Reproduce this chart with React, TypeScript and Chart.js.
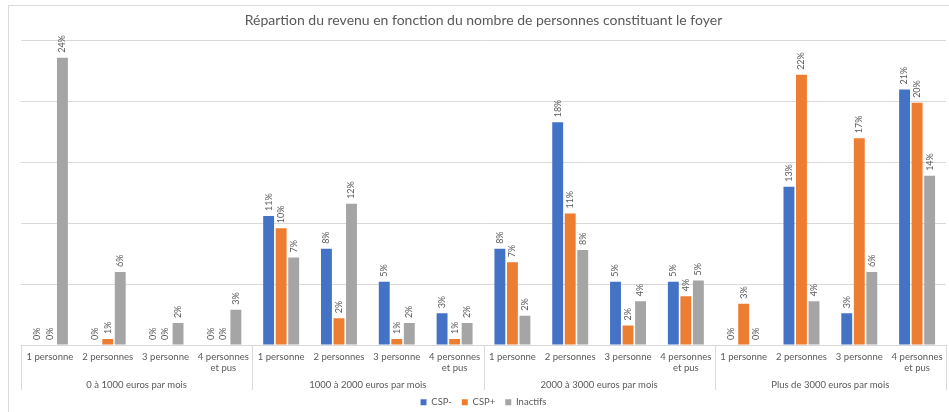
import React, { useEffect, useRef } from "react";
import { Chart, registerables } from "chart.js";

Chart.register(...registerables);

const subCategories: (string | string[])[] = [
  "1 personne", "2 personnes", "3 personne", ["4 personnes", "et pus"],
  "1 personne", "2 personnes", "3 personne", ["4 personnes", "et pus"],
  "1 personne", "2 personnes", "3 personne", ["4 personnes", "et pus"],
  "1 personne", "2 personnes", "3 personne", ["4 personnes", "et pus"],
];
const groups = [
  "0 à 1000 euros par mois",
  "1000 à 2000 euros par mois",
  "2000 à 3000 euros par mois",
  "Plus de 3000 euros par mois",
];
const cspMoins = [0, 0, 0, 0, 10.6, 7.9, 5.2, 2.6, 7.9, 18.3, 5.2, 5.2, 0, 13.0, 2.6, 21.0];
const cspPlus = [0, 0.5, 0, 0, 9.6, 2.2, 0.5, 0.5, 6.8, 10.8, 1.6, 4.0, 3.4, 22.2, 17.0, 19.9];
const inactifs = [23.6, 6.0, 1.8, 2.9, 7.2, 11.6, 1.8, 1.8, 2.4, 7.8, 3.6, 5.3, 0, 3.6, 6.0, 13.9];
const seriesNames = ["CSP-", "CSP+", "Inactifs"];
const seriesColors = ["#4472C4", "#ED7D31", "#A5A5A5"];

const TEXT = "#595959";
const GRID = "#D9D9D9";
const FONT = "Lato, 'Open Sans', sans-serif";

const framePlugin = {
  id: "frame",
  beforeDraw(chart: any) {
    const ctx = chart.ctx;
    ctx.save();
    ctx.fillStyle = "#ffffff";
    ctx.fillRect(0, 0, chart.width, chart.height);
    ctx.strokeStyle = GRID;
    ctx.lineWidth = 1;
    ctx.strokeRect(8.5, 5.5, 2000, 2000);
    ctx.restore();
  },
};

const labelsPlugin = {
  id: "valueLabels",
  afterDatasetsDraw(chart: any) {
    const ctx = chart.ctx;
    ctx.save();
    ctx.fillStyle = TEXT;
    ctx.font = `9px ${FONT}`;
    ctx.textAlign = "left";
    ctx.textBaseline = "middle";
    chart.data.datasets.forEach((ds: any, di: number) => {
      const meta = chart.getDatasetMeta(di);
      meta.data.forEach((el: any, i: number) => {
        const v = ds.data[i] as number;
        const txt = Math.round(v) + "%";
        ctx.save();
        ctx.translate(el.x, el.y - 5);
        ctx.rotate(-Math.PI / 2);
        ctx.fillText(txt, 0, 0);
        ctx.restore();
      });
    });
    ctx.restore();
  },
};

const groupPlugin = {
  id: "groupAxis",
  afterDraw(chart: any) {
    const ctx = chart.ctx;
    const area = chart.chartArea;
    const n = subCategories.length;
    const w = (area.right - area.left) / n;
    const per = n / groups.length;
    ctx.save();
    ctx.strokeStyle = GRID;
    ctx.lineWidth = 1;
    for (let g = 0; g <= groups.length; g++) {
      const x = Math.round(area.left + g * per * w) + 0.5;
      ctx.beginPath();
      ctx.moveTo(x, area.bottom);
      ctx.lineTo(x, 390);
      ctx.stroke();
    }
    ctx.fillStyle = TEXT;
    ctx.font = `9.5px ${FONT}`;
    ctx.textAlign = "center";
    ctx.textBaseline = "middle";
    groups.forEach((g, gi) => {
      ctx.fillText(g, area.left + (gi * per + per / 2) * w, 385);
    });
    ctx.restore();
  },
};

export default function App() {
  const ref = useRef<HTMLCanvasElement | null>(null);
  useEffect(() => {
    if (!ref.current) return;
    const chart = new Chart(ref.current, {
      type: "bar",
      data: {
        labels: subCategories,
        datasets: [cspMoins, cspPlus, inactifs].map((d, i) => ({
          label: seriesNames[i],
          data: d,
          backgroundColor: seriesColors[i],
          borderWidth: 0,
          categoryPercentage: 0.65,
          barPercentage: 0.87,
        })),
      },
      options: {
        animation: false,
        responsive: false,
        devicePixelRatio: 1,
        layout: { padding: { left: 21, right: 3, top: 0, bottom: 0 } },
        plugins: {
          title: {
            display: true,
            text: "Répartion du revenu en fonction du nombre de personnes constituant le foyer",
            color: TEXT,
            font: { family: FONT, size: 14, weight: "normal", lineHeight: 1.2 },
            padding: { top: 12, bottom: 12 },
          },
          legend: {
            display: true,
            position: "bottom",
            labels: {
              color: TEXT,
              font: { family: FONT, size: 9.5 },
              boxWidth: 6,
              boxHeight: 6,
              padding: 10,
            },
          },
          tooltip: { enabled: false },
        },
        scales: {
          x: {
            grid: { display: false, drawTicks: false },
            border: { display: true, color: GRID },
            ticks: {
              color: TEXT,
              font: { family: FONT, size: 9.5, lineHeight: 1.2 },
              padding: 6,
              maxRotation: 0,
              minRotation: 0,
              autoSkip: false,
            },
            afterFit: (scale: any) => {
              scale.height = 42.5;
            },
          },
          y: {
            min: 0,
            max: 25,
            ticks: { display: false, stepSize: 5 },
            grid: { color: GRID, drawTicks: false, lineWidth: 1 },
            border: { display: false },
          },
        },
      },
      plugins: [framePlugin, labelsPlugin, groupPlugin],
    });
    return () => chart.destroy();
  }, []);
  return (
    <div style={{ position: "fixed", left: 0, top: 0, width: 949, height: 412, overflow: "hidden", background: "#fff" }}>
      <canvas ref={ref} width={949} height={417} style={{ display: "block", width: 949, height: 417 }} />
    </div>
  );
}
